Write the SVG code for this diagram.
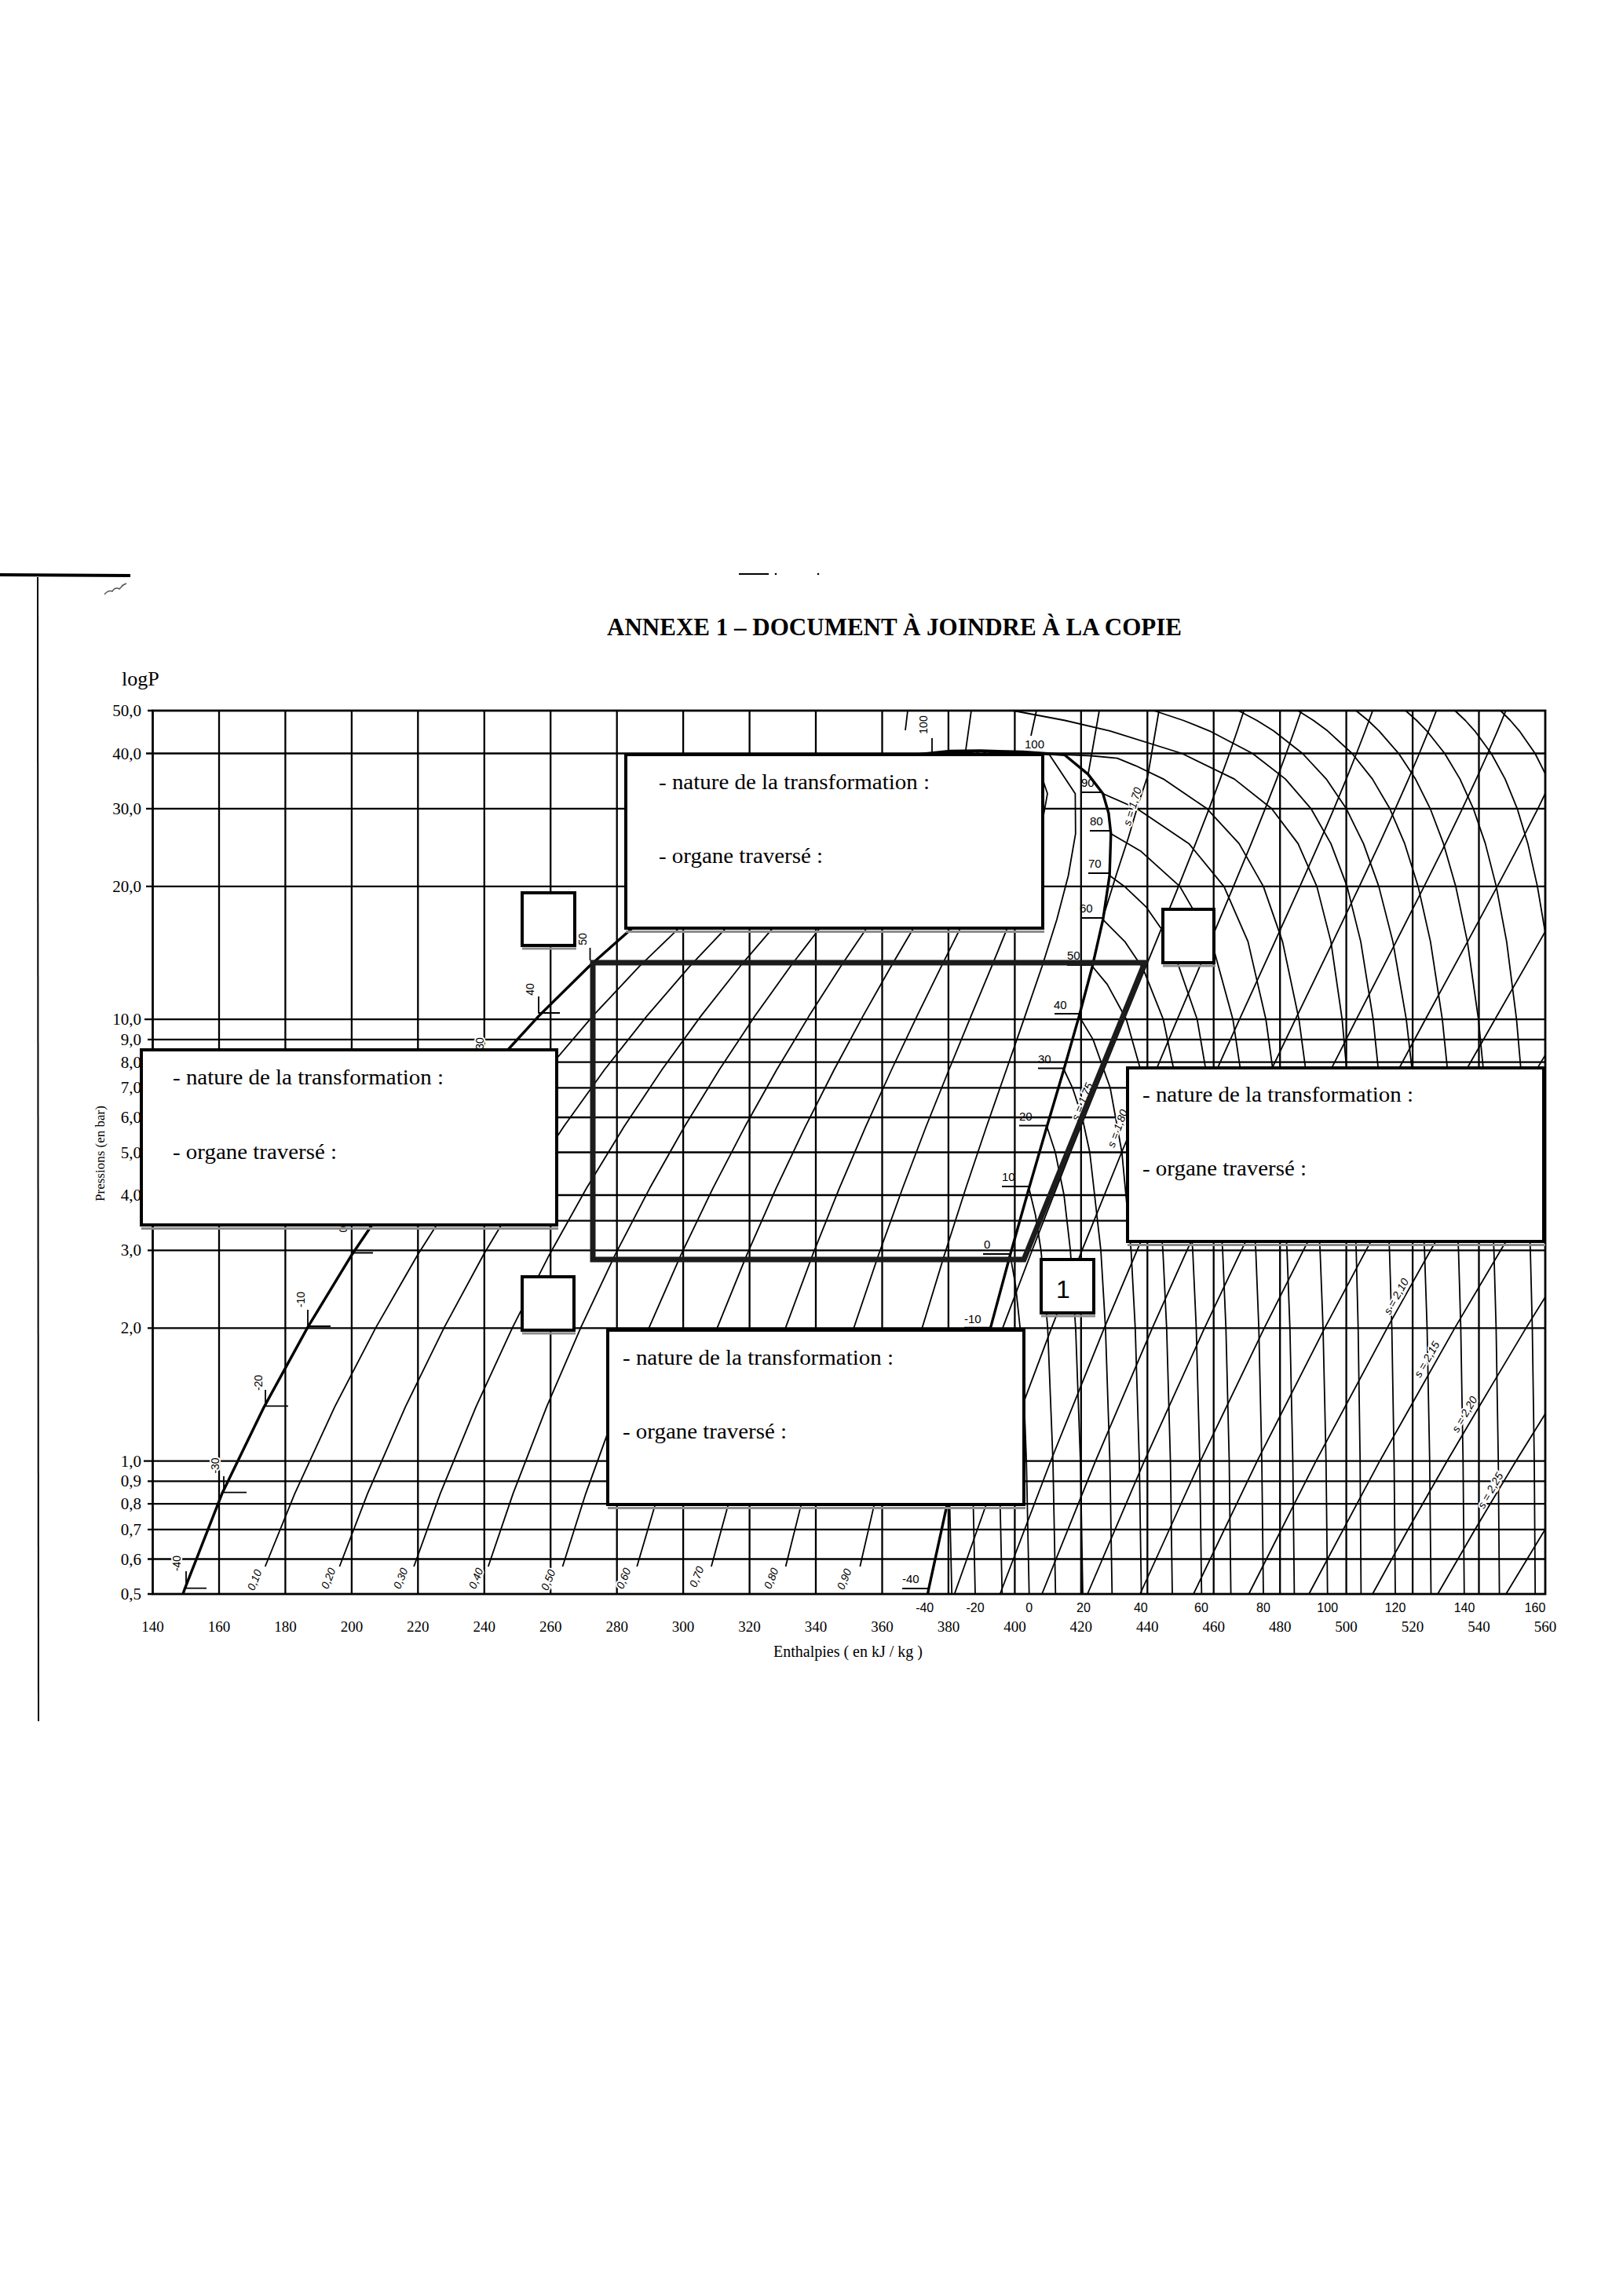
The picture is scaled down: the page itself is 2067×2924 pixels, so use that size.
<svg xmlns="http://www.w3.org/2000/svg" width="2067" height="2924" viewBox="0 0 2067 2924">
<style>
.grid{stroke:#000;stroke-width:2.3;fill:none}
.border{stroke:#000;stroke-width:2.8;fill:none}
.thin{stroke:#000;stroke-width:1.8;fill:none;stroke-linejoin:round}
.dome{stroke:#000;stroke-width:3.4;fill:none;stroke-linejoin:round}
.cycle{stroke:#1c1c1c;stroke-width:7;fill:none;stroke-linejoin:miter}
.box{fill:#fff;stroke:#000;stroke-width:4}
.shadow{stroke:#8c8c8c;stroke-width:3;fill:none}
.ylab{font-family:"Liberation Serif",serif;font-size:21px;text-anchor:end}
.xlab{font-family:"Liberation Serif",serif;font-size:19px;text-anchor:middle}
.tlab{font-family:"Liberation Sans",sans-serif;font-size:16px;text-anchor:middle}
.vlab{font-family:"Liberation Sans",sans-serif;font-size:15px}
.rlab{font-family:"Liberation Sans",sans-serif;font-size:14px;text-anchor:middle;stroke:#fff;stroke-width:4;paint-order:stroke}
.slab{font-family:"Liberation Sans",sans-serif;font-size:14px;font-style:italic;text-anchor:middle;stroke:#fff;stroke-width:4;paint-order:stroke}
.btxt{font-family:"Liberation Serif",serif;font-size:28px}
</style>

<g id="page-marks">
<path d="M0,732 L166,733" stroke="#000" stroke-width="4" fill="none"/>
<path d="M48,735 L49,2192" stroke="#000" stroke-width="2" fill="none"/>
<path d="M133,757 q5,-6 10,-4 q4,-6 9,-3 l6,-6 m-3,2 l6,-3" stroke="#555" stroke-width="1.5" fill="none"/>
<path d="M941,731 L979,731" stroke="#000" stroke-width="2"/>
<circle cx="988" cy="731" r="1.3" fill="#000"/>
<circle cx="1042" cy="731" r="1.3" fill="#000"/>
</g>

<text x="773" y="809" textLength="732" lengthAdjust="spacingAndGlyphs" style="font-family:'Liberation Serif',serif;font-size:32px;font-weight:bold">ANNEXE 1 – DOCUMENT À JOINDRE À LA COPIE</text>
<text x="155" y="873" style="font-family:'Liberation Serif',serif;font-size:26px">logP</text>
<text transform="translate(133,1469) rotate(-90)" text-anchor="middle" style="font-family:'Liberation Serif',serif;font-size:17px">Pressions (en bar)</text>
<text x="1080" y="2110" text-anchor="middle" style="font-family:'Liberation Serif',serif;font-size:20px">Enthalpies ( en kJ / kg )</text>

<g id="grid">
<path class="grid" d="M186,959.5H1968M186,1029.8H1968M186,1128.9H1968M184,1298.2H1968M188,1323.9H1968M188,1352.7H1968M188,1385.3H1968M188,1423H1968M188,1467.5H1968M188,1522H1968M194.5,1554.7H1968M188,1592.3H1968M188,1691.4H1968M183,1860.7H1968M188,1886.4H1968M188,1915.2H1968M188,1947.8H1968M188,1985.5H1968M188,2030H194.5M188,905H194.5"/>
<path class="grid" d="M279,905V2030M363.4,905V2030M447.9,905V2030M532.3,905V2030M616.8,905V2030M701.2,905V2030M785.7,905V2030M870.1,905V2030M954.6,905V2030M1039,905V2030M1123.5,905V2030M1207.9,905V2030M1292.4,905V2030M1376.8,905V2030M1461.3,905V2030M1545.7,905V2030M1630.2,905V2030M1714.6,905V2030M1799.1,905V2030M1883.5,905V2030"/>
<rect class="border" x="194.5" y="905" width="1773.5" height="1125"/>
</g>

<g id="axis-labels">
<text class="ylab" x="180" y="912">50,0</text>
<text class="ylab" x="180" y="966.5">40,0</text>
<text class="ylab" x="180" y="1036.8">30,0</text>
<text class="ylab" x="180" y="1135.9">20,0</text>
<text class="ylab" x="180" y="1305.2">10,0</text>
<text class="ylab" x="180" y="1330.9">9,0</text>
<text class="ylab" x="180" y="1359.7">8,0</text>
<text class="ylab" x="180" y="1392.3">7,0</text>
<text class="ylab" x="180" y="1430">6,0</text>
<text class="ylab" x="180" y="1474.5">5,0</text>
<text class="ylab" x="180" y="1529">4,0</text>
<text class="ylab" x="180" y="1599.3">3,0</text>
<text class="ylab" x="180" y="1698.4">2,0</text>
<text class="ylab" x="180" y="1867.7">1,0</text>
<text class="ylab" x="180" y="1893.4">0,9</text>
<text class="ylab" x="180" y="1922.2">0,8</text>
<text class="ylab" x="180" y="1954.8">0,7</text>
<text class="ylab" x="180" y="1992.5">0,6</text>
<text class="ylab" x="180" y="2037">0,5</text>
<text class="xlab" x="194.5" y="2078">140</text>
<text class="xlab" x="279" y="2078">160</text>
<text class="xlab" x="363.4" y="2078">180</text>
<text class="xlab" x="447.9" y="2078">200</text>
<text class="xlab" x="532.3" y="2078">220</text>
<text class="xlab" x="616.8" y="2078">240</text>
<text class="xlab" x="701.2" y="2078">260</text>
<text class="xlab" x="785.7" y="2078">280</text>
<text class="xlab" x="870.1" y="2078">300</text>
<text class="xlab" x="954.6" y="2078">320</text>
<text class="xlab" x="1039" y="2078">340</text>
<text class="xlab" x="1123.5" y="2078">360</text>
<text class="xlab" x="1207.9" y="2078">380</text>
<text class="xlab" x="1292.4" y="2078">400</text>
<text class="xlab" x="1376.8" y="2078">420</text>
<text class="xlab" x="1461.3" y="2078">440</text>
<text class="xlab" x="1545.7" y="2078">460</text>
<text class="xlab" x="1630.2" y="2078">480</text>
<text class="xlab" x="1714.6" y="2078">500</text>
<text class="xlab" x="1799.1" y="2078">520</text>
<text class="xlab" x="1883.5" y="2078">540</text>
<text class="xlab" x="1968" y="2078">560</text>
<text class="tlab" x="1177.7" y="2053">-40</text>
<text class="tlab" x="1242" y="2053">-20</text>
<text class="tlab" x="1310.7" y="2053">0</text>
<text class="tlab" x="1380" y="2053">20</text>
<text class="tlab" x="1452.8" y="2053">40</text>
<text class="tlab" x="1530" y="2053">60</text>
<text class="tlab" x="1609" y="2053">80</text>
<text class="tlab" x="1690.7" y="2053">100</text>
<text class="tlab" x="1777" y="2053">120</text>
<text class="tlab" x="1865" y="2053">140</text>
<text class="tlab" x="1955" y="2053">160</text>
</g>

<g id="quality-lines">
<path class="thin" d="M337.7,1995 L375.4,1902.1 L426.3,1791.6 L478.7,1690.6 L531.8,1598.2 L585.8,1513.3 L640.9,1434.8 L697,1362 L754.8,1294.1 L814.3,1230.7 L876,1171.2 L940.8,1115 L1009.7,1061.7 L1086.6,1010.7 L1184,961.2 L1248.5,956"/>
<path class="thin" d="M432.4,1995 L468.1,1902.1 L516.3,1791.6 L565.7,1690.6 L615.6,1598.2 L666.3,1513.3 L717.9,1434.8 L770.1,1362 L823.7,1294.1 L878.4,1230.7 L934.8,1171.2 L993.3,1115 L1054.7,1061.7 L1122,1010.7 L1203.1,961.2 L1248.5,956"/>
<path class="thin" d="M527.1,1995 L560.7,1902.1 L606.2,1791.6 L652.7,1690.6 L699.5,1598.2 L746.9,1513.3 L794.8,1434.8 L843.2,1362 L892.5,1294.1 L942.5,1230.7 L993.5,1171.2 L1045.7,1115 L1099.7,1061.7 L1157.3,1010.7 L1222.1,961.2 L1248.5,956"/>
<path class="thin" d="M621.8,1995 L653.4,1902.1 L696.2,1791.6 L739.7,1690.6 L783.3,1598.2 L827.4,1513.3 L871.7,1434.8 L916.3,1362 L961.3,1294.1 L1006.6,1230.7 L1052.3,1171.2 L1098.2,1115 L1144.7,1061.7 L1192.7,1010.7 L1241.2,961.2 L1248.5,956"/>
<path class="thin" d="M716.5,1995 L746,1902.1 L786.1,1791.6 L826.7,1690.6 L867.2,1598.2 L907.9,1513.3 L948.7,1434.8 L989.4,1362 L1030.2,1294.1 L1070.7,1230.7 L1111,1171.2 L1150.7,1115 L1189.8,1061.7 L1228,1010.7 L1260.3,961.2 L1248.5,956"/>
<path class="thin" d="M811.2,1995 L838.6,1902.1 L876,1791.6 L913.6,1690.6 L951.1,1598.2 L988.4,1513.3 L1025.6,1434.8 L1062.5,1362 L1099,1294.1 L1134.8,1230.7 L1169.7,1171.2 L1203.2,1115 L1234.8,1061.7 L1263.3,1010.7 L1279.4,961.2 L1248.5,956"/>
<path class="thin" d="M905.9,1995 L931.3,1902.1 L966,1791.6 L1000.6,1690.6 L1034.9,1598.2 L1068.9,1513.3 L1102.5,1434.8 L1135.6,1362 L1167.8,1294.1 L1198.9,1230.7 L1228.5,1171.2 L1255.7,1115 L1279.8,1061.7 L1298.7,1010.7 L1298.5,961.2 L1248.5,956"/>
<path class="thin" d="M1000.6,1995 L1023.9,1902.1 L1055.9,1791.6 L1087.6,1690.6 L1118.8,1598.2 L1149.5,1513.3 L1179.4,1434.8 L1208.7,1362 L1236.6,1294.1 L1263,1230.7 L1287.2,1171.2 L1308.1,1115 L1324.8,1061.7 L1334,1010.7 L1317.5,961.2 L1248.5,956"/>
<path class="thin" d="M1095.3,1995 L1116.6,1902.1 L1145.9,1791.6 L1174.6,1690.6 L1202.7,1598.2 L1230,1513.3 L1256.4,1434.8 L1281.8,1362 L1305.4,1294.1 L1327.1,1230.7 L1345.9,1171.2 L1360.6,1115 L1369.8,1061.7 L1369.4,1010.7 L1336.6,961.2 L1248.5,956"/>
</g>

<g id="isotherms">
<path class="thin" d="M1212.2,2030 L1209.2,1902.1"/>
<path class="thin" d="M1242,2030 L1238.3,1860.7 L1235.8,1791.6"/>
<path class="thin" d="M1276.3,2030 L1272.5,1860.7 L1268.8,1761.6 L1261.6,1690.6"/>
<path class="thin" d="M1310.7,2030 L1307.2,1860.7 L1303.5,1761.6 L1299.2,1691.4 L1293.4,1636.9 L1286.5,1598.2"/>
<path class="thin" d="M1344.3,2030 L1341,1860.7 L1334.3,1691.4 L1325.8,1592.3 L1318.8,1547.8 L1310.5,1513.3"/>
<path class="thin" d="M1379,2030 L1376,1860.7 L1369.9,1691.4 L1363.2,1592.3 L1355.1,1522 L1344,1467.5 L1333.3,1434.8"/>
<path class="thin" d="M1416.3,2030 L1413.5,1860.7 L1407.9,1691.4 L1402,1592.3 L1387.9,1467.5 L1378.3,1423 L1365.9,1385.3 L1354.9,1362"/>
<path class="thin" d="M1453.6,2030 L1451,1860.7 L1445.8,1691.4 L1440.5,1592.3 L1428.8,1467.5 L1413.9,1385.3 L1392.1,1323.9 L1374.3,1294.1"/>
<path class="thin" d="M1493,2030 L1490.6,1860.7 L1485.8,1691.4 L1481,1592.3 L1470.8,1467.5 L1459,1385.3 L1434.5,1298.2 L1410.2,1253.6 L1391.2,1230.7"/>
<path class="thin" d="M1530.3,2030 L1528,1860.7 L1523.5,1691.4 L1519,1592.3 L1509.7,1467.5 L1499.7,1385.3 L1481.5,1298.2 L1456,1234.1 L1432.5,1199.1 L1404.7,1171.2"/>
<path class="thin" d="M1567.6,2030 L1565.5,1860.7 L1561.3,1691.4 L1557.1,1592.3 L1548.5,1467.5 L1539.6,1385.3 L1524.7,1298.2 L1490.3,1199.1 L1459.3,1154.6 L1432.1,1128.9 L1413.1,1115"/>
<path class="thin" d="M1609,2030 L1607,1860.7 L1603.2,1691.4 L1599.3,1592.3 L1591.4,1467.5 L1583.2,1385.3 L1570.2,1298.2 L1543.1,1199.1 L1502.6,1128.9 L1453.3,1084.3 L1414.8,1061.7"/>
<path class="thin" d="M1648.4,2030 L1646.5,1860.7 L1642.8,1691.4 L1639.1,1592.3 L1631.7,1467.5 L1624.2,1385.3 L1612.2,1298.2 L1589.4,1199.1 L1558.8,1128.9 L1514.2,1074.4 L1447.9,1029.8 L1404.7,1010.7"/>
<path class="thin" d="M1690.7,2030 L1688.8,1860.7 L1685,1691.4 L1681.2,1592.3 L1673.7,1467.5 L1666,1385.3 L1654.3,1298.2 L1633.4,1199.1 L1609,1128.9 L1578.1,1074.4 L1537.1,1029.8 L1481.6,992.1 L1446.7,975.3 L1423,965.7 L1390,962.5 L1355.7,961.2"/>
<path class="thin" d="M1733.4,2030 L1732.2,1860.7 L1729.7,1691.4 L1727.2,1592.3 L1722.2,1467.5 L1717.1,1385.3 L1709.3,1298.2 L1695,1199.1 L1677.1,1128.9 L1653.2,1074.4 L1619.5,1029.8 L1572,992.1 L1505.2,959.5 L1413.6,930.8 L1356.4,917.5 L1290.1,905"/>
<path class="thin" d="M1777,2030 L1775.5,1860.7 L1772.6,1691.4 L1769.6,1592.3 L1763.7,1467.5 L1757.8,1385.3 L1748.8,1298.2 L1733,1199.1 L1715.6,1128.9 L1695,1074.4 L1669.6,1029.8 L1637.1,992.1 L1595.1,959.5 L1540.3,930.8 L1507.1,917.5 L1469.6,905"/>
<path class="thin" d="M1822.5,2030 L1820.8,1860.7 L1817.5,1691.4 L1814.2,1592.3 L1807.6,1467.5 L1801,1385.3 L1791,1298.2 L1773.9,1199.1 L1756,1128.9 L1736.5,1074.4 L1714.6,1029.8 L1689.1,992.1 L1658.8,959.5 L1622,930.8 L1600.7,917.5 L1577.2,905"/>
<path class="thin" d="M1864.8,2030 L1863.3,1860.7 L1860.4,1691.4 L1857.5,1592.3 L1851.6,1467.5 L1845.8,1385.3 L1836.9,1298.2 L1821.8,1199.1 L1806.1,1128.9 L1789,1074.4 L1770,1029.8 L1747.9,992.1 L1722,959.5 L1690.8,930.8 L1672.8,917.5 L1653,905"/>
<path class="thin" d="M1909.6,2030 L1908.2,1860.7 L1905.4,1691.4 L1902.6,1592.3 L1897,1467.5 L1891.4,1385.3 L1882.9,1298.2 L1868.8,1199.1 L1854,1128.9 L1838.4,1074.4 L1821.5,1029.8 L1802.7,992.1 L1781.3,959.5 L1756.3,930.8 L1742.3,917.5 L1727,905"/>
<path class="thin" d="M1955.2,2030 L1954,1860.7 L1951.5,1691.4 L1949,1592.3 L1944,1467.5 L1939,1385.3 L1931.4,1298.2 L1918.8,1199.1 L1905.6,1128.9 L1891.7,1074.4 L1876.4,1029.8 L1859.4,992.1 L1839.9,959.5 L1817.1,930.8 L1804.2,917.5 L1790.1,905"/>
<path class="thin" d="M1968,1188 L1958,1128.9 L1945.8,1074.4 L1932.3,1029.8 L1916.9,992.1 L1899.2,959.5 L1878.2,930.8 L1866.2,917.5 L1853,905"/>
<path class="thin" d="M1968,985.3 L1955,959.5 L1935,930.8 L1923.5,917.5 L1911,905"/>
<path class="thin" d="M1153,930 L1156,905 M1313,937 L1320,905"/>
</g>

<g id="isentropes">
<path class="thin" d="M1227,1826 L1251.1,1761.6 L1276.9,1691.4 L1314.5,1592.3 L1363.3,1467.5 L1396.4,1385.3 L1431.8,1298.2 L1472.4,1199.1 L1500.9,1128.9 L1522.6,1074.4 L1539.9,1029.8 L1554,992.1 L1565.8,959.5 L1575.7,930.8 L1584.2,905"/>
<path class="thin" d="M1404,1171 L1422,1113 L1437,1067 L1450,1023 L1462,987 L1476,905"/>
<path class="thin" d="M1386,985 L1393,945 L1400,905"/>
<path class="thin" d="M1215.6,2030 L1275.6,1860.7 L1339.1,1691.4 L1378,1592.3 L1428.5,1467.5 L1462.8,1385.3 L1499.4,1298.2 L1541.4,1199.1 L1570.9,1128.9 L1593.5,1074.4 L1611.3,1029.8 L1626,992.1 L1638.1,959.5 L1648.4,930.8 L1657.2,905"/>
<path class="thin" d="M1273.6,2030 L1338.1,1860.7 L1406.3,1691.4 L1448.1,1592.3 L1502.4,1467.5 L1539.3,1385.3 L1578.6,1298.2 L1623.7,1199.1 L1655.5,1128.9 L1679.7,1074.4 L1698.9,1029.8 L1714.6,992.1 L1727.6,959.5 L1738.7,930.8 L1748.2,905"/>
<path class="thin" d="M1327,2030 L1395.2,1860.7 L1467.5,1691.4 L1511.7,1592.3 L1569.2,1467.5 L1608.2,1385.3 L1649.8,1298.2 L1697.6,1199.1 L1731.2,1128.9 L1756.8,1074.4 L1777.1,1029.8 L1793.8,992.1 L1807.6,959.5 L1819.3,930.8 L1829.3,905"/>
<path class="thin" d="M1385,2030 L1457.4,1860.7 L1534,1691.4 L1580.9,1592.3 L1641.9,1467.5 L1683.2,1385.3 L1727.4,1298.2 L1778.1,1199.1 L1813.7,1128.9 L1840.9,1074.4 L1862.4,1029.8 L1880.1,992.1 L1894.7,959.5 L1907.1,930.8 L1917.8,905"/>
<path class="thin" d="M1452,2030 L1528.8,1860.7 L1610.1,1691.4 L1659.9,1592.3 L1724.6,1467.5 L1768.5,1385.3 L1815.3,1298.2 L1869.1,1199.1 L1906.9,1128.9 L1935.8,1074.4 L1958.6,1029.8 L1968,1010.5"/>
<path class="thin" d="M1520,2030 L1601.1,1860.7 L1687.1,1691.4 L1739.7,1592.3 L1808,1467.5 L1854.4,1385.3 L1903.9,1298.2 L1960.7,1199.1 L1968,1186.3"/>
<path class="thin" d="M1590.4,2030 L1676,1860.7 L1766.6,1691.4 L1822,1592.3 L1894.1,1467.5 L1943,1385.3 L1968,1343.6"/>
<path class="thin" d="M1667,2030 L1757.2,1860.7 L1852.7,1691.4 L1911.2,1592.3 L1953.7,1522 L1968,1499"/>
<path class="thin" d="M1748,2030 L1793.3,1947.8 L1842.9,1860.7 L1901.4,1761.6 L1943.4,1691.4 L1968,1651.7"/>
<path class="thin" d="M1831,2030 L1878.6,1947.8 L1897.9,1915.2 L1915.2,1886.4 L1930.6,1860.7 L1968,1800.6"/>
<path class="thin" d="M1918,2030 L1944.9,1985.5 L1968,1947.5"/>
<path class="thin" d="M1230,955 L1237,905"/>
</g>

<g id="saturation-dome">
<path class="dome" d="M233,2030 L235,2024.2 L282.8,1902.1 L336.4,1791.6 L391.7,1690.6 L447.9,1598.2 L505.3,1513.3 L564,1434.8 L623.9,1362 L686,1294.1 L750.2,1230.7 L817.3,1171.2 L888.3,1115 L964.7,1061.7 L1051.3,1010.7 L1100.3,985.9 L1164.9,961.2 L1210,956.5 L1248.5,956 L1303,957.5 L1355.7,961.2 L1385.6,985.9 L1404.7,1010.7 L1411.9,1035.6 L1414.8,1061.7 L1413.1,1115 L1404.7,1171.2 L1391.2,1230.7 L1374.3,1294.1 L1354.9,1362 L1333.3,1434.8 L1310.5,1513.3 L1286.5,1598.2 L1261.6,1690.6 L1235.8,1791.6 L1209.2,1902.1 L1182.6,2024.2 L1181.5,2030"/>
</g>

<g id="temperature-ticks">
<path class="thin" d="M237,2001V2022.6H263 M285,1880V1900.6H314 M338,1770V1790.6H367 M392,1668V1689H421 M448,1575V1595.5H475 M686,1269V1290H713 M751.5,1207V1223 M1187,940V960"/>
<path class="thin" d="M1149,2023H1182 M1228,1690.6H1261.6 M1252,1597H1286 M1276,1511H1310 M1298,1433.5H1333 M1322,1360.5H1355 M1343,1291H1374 M1359,1229H1391 M1377,1169H1405 M1386,1112H1413 M1388,1058H1415 M1378,1009H1405"/>
</g>

<g id="temperature-labels">
<text class="rlab" transform="translate(224.5,1991) rotate(-90)" y="5">-40</text>
<text class="rlab" transform="translate(274,1866.5) rotate(-90)" y="5">-30</text>
<text class="rlab" transform="translate(328.5,1761) rotate(-90)" y="5">-20</text>
<text class="rlab" transform="translate(382.7,1655) rotate(-90)" y="5">-10</text>
<text class="rlab" transform="translate(437,1565.6) rotate(-90)" y="5">0</text>
<text class="rlab" transform="translate(611,1329) rotate(-90)" y="5">30</text>
<text class="rlab" transform="translate(674.8,1260) rotate(-90)" y="5">40</text>
<text class="rlab" transform="translate(742,1196) rotate(-90)" y="5">50</text>
<text class="rlab" transform="translate(1176,923) rotate(-90)" y="5">100</text>
<text class="vlab" x="1149" y="2016">-40</text>
<text class="vlab" x="1228" y="1685">-10</text>
<text class="vlab" x="1253" y="1590">0</text>
<text class="vlab" x="1276" y="1504">10</text>
<text class="vlab" x="1298" y="1427">20</text>
<text class="vlab" x="1322" y="1354">30</text>
<text class="vlab" x="1342" y="1285">40</text>
<text class="vlab" x="1359" y="1222">50</text>
<text class="vlab" x="1375" y="1162">60</text>
<text class="vlab" x="1386" y="1105">70</text>
<text class="vlab" x="1388" y="1051">80</text>
<text class="vlab" x="1377" y="1002">90</text>
<text class="vlab" x="1305" y="953">100</text>
</g>

<g id="quality-labels">
<text class="slab" transform="translate(324,2012) rotate(-68)" y="5">0,10</text>
<text class="slab" transform="translate(418,2010) rotate(-68)" y="5">0,20</text>
<text class="slab" transform="translate(510,2010) rotate(-68)" y="5">0,30</text>
<text class="slab" transform="translate(606,2010) rotate(-68)" y="5">0,40</text>
<text class="slab" transform="translate(698,2012) rotate(-68)" y="5">0,50</text>
<text class="slab" transform="translate(794,2010) rotate(-68)" y="5">0,60</text>
<text class="slab" transform="translate(887,2008) rotate(-68)" y="5">0,70</text>
<text class="slab" transform="translate(982,2010) rotate(-68)" y="5">0,80</text>
<text class="slab" transform="translate(1075,2011) rotate(-68)" y="5">0,90</text>
</g>

<g id="entropy-labels">
<text class="slab" transform="translate(1442,1027) rotate(-73)" y="5">s = 1,70</text>
<text class="slab" transform="translate(1378,1403) rotate(-68)" y="5">s = 1,75</text>
<text class="slab" transform="translate(1423,1437) rotate(-70)" y="5">s = 1,80</text>
<text class="slab" transform="translate(1778,1651) rotate(-61)" y="5">s = 2,10</text>
<text class="slab" transform="translate(1817,1731) rotate(-60)" y="5">s = 2,15</text>
<text class="slab" transform="translate(1865,1801) rotate(-60)" y="5">s = 2,20</text>
<text class="slab" transform="translate(1898,1898) rotate(-60)" y="5">s = 2,25</text>
</g>

<g id="connectors">
<path class="cycle" d="M1458,1226 L755,1226 L755,1604 L1304,1604 Z"/>
</g>

<g id="box-top">
<rect class="box" x="797" y="961" width="531" height="221"/>
<path class="shadow" d="M797,1186.5H1330"/>
<text class="btxt" x="839" y="1005" textLength="345" lengthAdjust="spacingAndGlyphs">- nature de la transformation :</text>
<text class="btxt" x="839" y="1099" textLength="209" lengthAdjust="spacingAndGlyphs">- organe traversé :</text>
</g>
<g id="box-left">
<rect class="box" x="180" y="1337" width="529" height="223"/>
<path class="shadow" d="M180,1564.5H711"/>
<text class="btxt" x="220" y="1381" textLength="345" lengthAdjust="spacingAndGlyphs">- nature de la transformation :</text>
<text class="btxt" x="220" y="1476" textLength="209" lengthAdjust="spacingAndGlyphs">- organe traversé :</text>
</g>
<g id="box-right">
<rect class="box" x="1436" y="1360" width="530" height="221"/>
<path class="shadow" d="M1436,1585.5H1968"/>
<text class="btxt" x="1455" y="1403" textLength="345" lengthAdjust="spacingAndGlyphs">- nature de la transformation :</text>
<text class="btxt" x="1455" y="1497" textLength="209" lengthAdjust="spacingAndGlyphs">- organe traversé :</text>
</g>
<g id="box-bottom">
<rect class="box" x="774" y="1694" width="530" height="222"/>
<path class="shadow" d="M774,1920.5H1306"/>
<text class="btxt" x="793" y="1738" textLength="345" lengthAdjust="spacingAndGlyphs">- nature de la transformation :</text>
<text class="btxt" x="793" y="1832" textLength="209" lengthAdjust="spacingAndGlyphs">- organe traversé :</text>
</g>
<g id="square-1">
<rect class="box" x="665" y="1137" width="67" height="67"/>
<path class="shadow" d="M665,1208H734"/>
</g>
<g id="square-2">
<rect class="box" x="665" y="1626" width="66" height="68"/>
<path class="shadow" d="M665,1698H733"/>
</g>
<g id="square-3">
<rect class="box" x="1481" y="1158" width="65" height="68"/>
<path class="shadow" d="M1481,1230H1548"/>
</g>
<g id="point-1">
<rect class="box" x="1326" y="1604" width="67" height="68"/>
<path class="shadow" d="M1326,1676H1395"/>
<text x="1354" y="1653" text-anchor="middle" style="font-family:'Liberation Sans',sans-serif;font-size:32px">1</text>
</g>
</svg>
